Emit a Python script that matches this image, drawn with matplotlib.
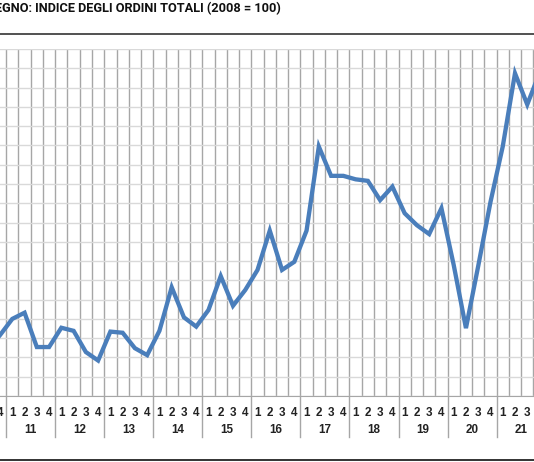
import numpy as np
import matplotlib
matplotlib.use("Agg")
import matplotlib.pyplot as plt
from matplotlib.lines import Line2D
from matplotlib.transforms import blended_transform_factory

# quarterly index of total orders, 2010 Q3 .. 2021 Q4 (2008 = 100)
start_quarter = 3
orders = [72.0, 75.8,
          80.0, 81.6, 72.7, 72.7,
          77.7, 76.9, 71.4, 69.2,
          76.7, 76.4, 72.4, 70.6,
          76.9, 88.2, 80.4, 78.0,
          82.3, 91.1, 83.4, 87.5,
          92.7, 102.9, 92.7, 94.8,
          102.9, 124.7, 117.1, 117.1,
          116.2, 115.8, 110.8, 114.3,
          107.4, 104.3, 102.0, 108.7,
          94.0, 77.6, 93.7, 110.3,
          124.7, 143.7, 135.6, 143.8]
years = ["11", "12", "13", "14", "15", "16", "17", "18", "19", "20", "21"]
title = "LEGNO: INDICE DEGLI ORDINI TOTALI (2008 = 100)"

# x position 0 = first quarter of 2011
x = np.arange(len(orders)) - 2
quarters = [str((start_quarter - 1 + i) % 4 + 1) for i in range(len(orders))]

W, H = 534, 462
fig = plt.figure(figsize=(W / 100, H / 100), dpi=100)
ax_top, ax_bot = 49, 396
ax = fig.add_axes([0, 1 - ax_bot / H, 1, (ax_bot - ax_top) / H])

ax.plot(x, orders, color="#4a7ebb", lw=3.1, solid_joinstyle="miter", zorder=3)

ax.set_yticks(np.arange(60, 151, 5))
ax.tick_params(axis="y", left=False, labelleft=False)
ax.grid(axis="y", color="#d9d9d9", lw=1)

ax.set_xticks(x)
ax.set_xticklabels(quarters, fontfamily="Liberation Sans", fontweight="bold",
                   fontsize=8.4, color="#222222")
ax.tick_params(axis="x", length=0, pad=8)
ax.set_xticks(np.arange(-1.5, 44, 1), minor=True)
ax.tick_params(axis="x", which="minor", length=0)
ax.grid(axis="x", which="minor", color="#a6a6a6", lw=1)

# limits after the ticks, so the ticks don't widen the view
ax.set_xlim(-1.003, 42.55)
ax.set_ylim(60, 150)

for s in ["top", "left", "right"]:
    ax.spines[s].set_visible(False)
ax.spines["bottom"].set_color("#a6a6a6")

trans = blended_transform_factory(ax.transData, ax.transAxes)
px = 1 / (ax_bot - ax_top)
for i, yr in enumerate(years):
    ax.text(4 * i + 1.5, -34 * px, yr, transform=trans, ha="center", va="center",
            fontfamily="Liberation Sans", fontweight="bold", fontsize=8.4,
            color="#222222", clip_on=False)
for b in np.arange(-0.5, 45, 4):
    ax.add_line(Line2D([b, b], [0, -41 * px], transform=trans, color="#a6a6a6",
                       lw=1, clip_on=False))

fig.text(281 / W, 1 - 8.5 / H, title, ha="right", va="center",
         fontfamily="Roboto", fontweight="bold", fontsize=9.2, color="#111111")
fig.add_artist(Line2D([0, 1], [1 - 33.5 / H] * 2, transform=fig.transFigure,
                      color="#333333", lw=1.2))
fig.add_artist(Line2D([0, 1], [1 - 460 / H] * 2, transform=fig.transFigure,
                      color="#333333", lw=1.4))

fig.savefig("out.png", dpi=100)
